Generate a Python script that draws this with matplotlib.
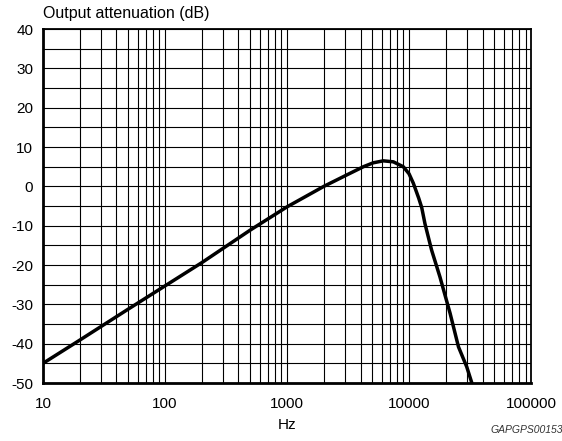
import matplotlib.pyplot as plt
from matplotlib.ticker import FixedLocator, NullFormatter

plt.rcParams['font.family'] = ['Liberation Sans', 'DejaVu Sans']

# curve (Hz, dB)
freq = [10, 20, 50, 100, 200, 500, 1000, 2000, 3080, 4220, 5090, 6150,
        7430, 8970, 10000, 10840, 12000, 12700, 13500, 15300, 17900, 21700,
        25400, 29700, 32700]
atten = [-45, -39.1, -31.2, -25.3, -19.4, -11.1, -5.2, 0, 2.9, 5.0, 6.0, 6.5,
         6.25, 5.0, 3.2, 0.8, -3.0, -5.4, -9.5, -16.2, -23, -32.3,
         -40.8, -45.9, -50]

x_ticks = [10, 100, 1000, 10000, 100000]
x_labels = ['10', '100', '1000', '10000', '100000']
y_ticks = [-50, -40, -30, -20, -10, 0, 10, 20, 30, 40]

fig = plt.figure(figsize=(5.62, 4.41), dpi=100)
ax = fig.add_axes([0.0765, 0.1315, 0.8685, 0.8025])

ax.set_xscale('log')
ax.set_xlim(10, 100000)
ax.set_ylim(-50, 40)

minor_x = [m * 10**d for d in range(1, 5) for m in range(2, 10)]
ax.xaxis.set_major_locator(FixedLocator(x_ticks))
ax.xaxis.set_minor_locator(FixedLocator(minor_x))
ax.xaxis.set_minor_formatter(NullFormatter())
ax.set_xticks(x_ticks, x_labels)
ax.set_yticks(y_ticks, [str(v) for v in y_ticks])
ax.yaxis.set_minor_locator(FixedLocator(list(range(-45, 40, 10))))

ax.grid(True, which='both', color='black', linewidth=0.8)
ax.tick_params(which='both', length=0, labelsize=11)
ax.tick_params(axis='x', pad=10)
ax.tick_params(axis='y', pad=7)
ax.set_axisbelow(True)

for side in ['left', 'bottom']:
    ax.spines[side].set_linewidth(2)
for side in ['top', 'right']:
    ax.spines[side].set_linewidth(1.3)

ax.plot(freq, atten, color='black', linewidth=2.5, solid_capstyle='round',
        solid_joinstyle='round')

fig.text(0.0765, 0.952, 'Output attenuation (dB)', fontsize=11.5, va='bottom')
ax.set_xlabel('Hz', fontsize=11, labelpad=5)
fig.text(0.872, 0.018, 'GAPGPS00153', fontsize=7.5, style='italic', color='#333333')

fig.savefig('out.png', dpi=100)
